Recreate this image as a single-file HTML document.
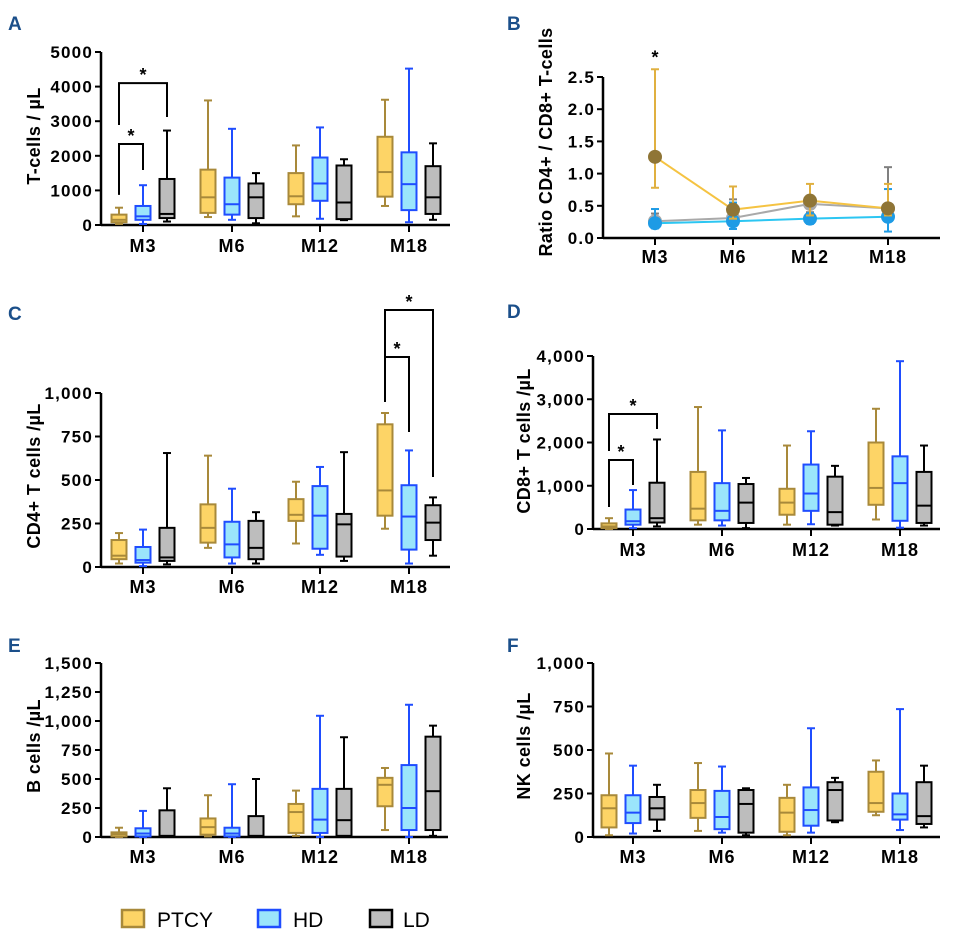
<!DOCTYPE html>
<html><head><meta charset="utf-8">
<style>
html,body{margin:0;padding:0;background:#fff;}
svg{display:block;font-family:"Liberation Sans",Arial,sans-serif;}
</style></head>
<body>
<svg id="fig" width="953" height="942" viewBox="0 0 953 942" xmlns="http://www.w3.org/2000/svg"></svg>
<script>
// ---- data ----
const categories = ["M3","M6","M12","M18"];
const groups = ["PTCY","HD","LD"];
// each entry: [min, q1, median, q3, max]
const tcellsPTCY = [[30,80,150,300,500],[230,350,800,1600,3600],[250,600,830,1500,2300],[550,820,1530,2550,3620]];
const tcellsHD   = [[30,150,250,550,1150],[150,300,600,1370,2780],[180,700,1200,1950,2820],[80,430,1180,2100,4520]];
const tcellsLD   = [[100,200,320,1330,2730],[50,200,800,1200,1500],[140,170,650,1720,1900],[150,320,800,1700,2360]];
const cd4PTCY = [[20,45,65,155,195],[110,140,225,360,640],[135,265,300,390,490],[220,295,440,820,885]];
const cd4HD   = [[5,25,40,115,215],[20,55,130,260,450],[70,105,295,465,575],[20,100,290,470,670]];
const cd4LD   = [[15,35,55,225,655],[20,45,110,265,315],[35,60,245,305,660],[65,155,255,355,400]];
const cd8PTCY = [[0,20,60,130,250],[100,200,470,1320,2820],[100,330,610,930,1930],[220,560,950,2000,2780]];
const cd8HD   = [[20,100,180,450,900],[80,200,420,1060,2280],[110,420,820,1490,2260],[30,190,1060,1680,3880]];
const cd8LD   = [[60,150,250,1070,2070],[20,140,610,1040,1180],[80,100,390,1210,1460],[80,140,540,1320,1930]];
const bPTCY = [[0,5,25,40,80],[5,20,85,160,360],[10,35,215,285,400],[60,265,450,510,595]];
const bHD   = [[0,5,30,75,225],[0,5,30,80,455],[0,35,150,415,1045],[0,60,250,620,1140]];
const bLD   = [[0,5,10,230,420],[0,5,10,180,500],[0,10,145,415,860],[10,60,395,865,960]];
const nkPTCY = [[10,55,165,240,480],[35,110,195,270,425],[10,30,140,225,300],[125,145,195,375,440]];
const nkHD   = [[20,80,140,240,410],[25,45,115,265,405],[25,65,155,285,625],[40,100,130,250,735]];
const nkLD   = [[35,100,165,230,300],[10,25,190,270,280],[85,95,270,315,340],[55,75,120,315,410]];
// ratio panel
const ratioPTCY = [1.26,0.44,0.58,0.46];
const ratioPTCYhi = [2.62,0.80,0.84,0.84];
const ratioPTCYlo = [0.78,0.30,0.35,0.35];
const ratioLD = [0.26,0.31,0.53,0.46];
const ratioLDhi = [0.38,0.60,0.60,1.10];
const ratioLDlo = [0.20,0.20,0.40,0.30];
const ratioHD = [0.23,0.26,0.30,0.33];
const ratioHDhi = [0.45,0.55,0.65,0.76];
const ratioHDlo = [0.15,0.14,0.22,0.10];
// tick labels
const ticksA = [0,1000,2000,3000,4000,5000];
const ticksB = [0,0.5,1.0,1.5,2.0,2.5];
const ticksC = [0,250,500,750,1000];
const ticksD = [0,1000,2000,3000,4000];
const ticksE = [0,250,500,750,1000,1250,1500];
const ticksF = [0,250,500,750,1000];
// significance brackets: [groupFrom, groupTo, category, top, leftEnd, rightEnd]
const sigA = [[0,1,0,2340,870,1590],[0,2,0,4100,2890,3120]];
const sigC = [[0,1,3,1207,948,776],[0,2,3,1477,948,517]];
const sigD = [[0,1,0,1595,509,1017],[0,2,0,2659,1803,2312]];

const NS="http://www.w3.org/2000/svg";
const svg=document.getElementById('fig');
function el(tag,attrs,parent,txt){const e=document.createElementNS(NS,tag);for(const k in attrs)e.setAttribute(k,attrs[k]);if(txt!==undefined)e.textContent=txt;(parent||svg).appendChild(e);return e;}
const COL=[{fill:"#FDD466",stroke:"#A8893A",med:"#A8893A"},{fill:"#9BE5FB",stroke:"#1F4DFF",med:"#1F4DFF"},{fill:"#BDBDBD",stroke:"#000",med:"#000"}];
function fmt(v,comma){if(!comma)return String(v);return v.toLocaleString('en-US');}

function axes(g,p,ticks,labels){
  const y=v=>p.y0-(v-p.vmin)/(p.vmax-p.vmin)*(p.y0-p.y1);
  el('line',{x1:p.ax,y1:p.y1,x2:p.ax,y2:p.y0+1,stroke:'#000','stroke-width':2.5},g);
  el('line',{x1:p.ax,y1:p.y0,x2:p.xEnd,y2:p.y0,stroke:'#000','stroke-width':2.5},g);
  ticks.forEach((t,i)=>{
    const yy=y(t);
    const tk=el('line',{x1:p.ax-6,y1:yy,x2:p.ax,y2:yy,stroke:'#000','stroke-width':2},g);
    
    
    const tl=el('text',{x:p.ax-8,y:yy+6,'text-anchor':'end','font-size':17,'font-weight':'bold','letter-spacing':'1.2'},g,labels[i]);
    
    
  });
  categories.forEach((c,i)=>{
    const cx=p.cx[i];
    el('line',{x1:cx,y1:p.y0,x2:cx,y2:p.y0+7,stroke:'#000','stroke-width':2},g);
    const t=el('text',{x:cx,y:p.xlabY,'text-anchor':'middle','font-size':18,'font-weight':'bold','letter-spacing':'1'},g,c);
    
    
  });
  const at=el('text',{transform:`translate(${p.titleX},${p.titleY}) rotate(-90)`,'text-anchor':'middle','font-size':18,'font-weight':'bold','letter-spacing':'0.4'},g,p.title);
  
  
  const pl=el('text',{x:p.lx,y:p.ly,'font-size':19,'font-weight':'bold',fill:'#1B4F8A'},g,p.letter);
  
  
  return y;
}

function boxPanel(p,series,ticks,labels,sig){
  const g=el('g',{});
  
  
  const y=axes(g,p,ticks,labels);
  const off=[-24,0,24], w=15;
  series.forEach((s,gi)=>{
    s.forEach((d,ci)=>{
      const cx=p.cx[ci]+off[gi], c=COL[gi];
      const bg=el('g',{},g);
      
      
      el('line',{x1:cx,y1:y(d[4]),x2:cx,y2:y(d[0]),stroke:c.stroke,'stroke-width':2},bg);
      el('line',{x1:cx-4,y1:y(d[4]),x2:cx+4,y2:y(d[4]),stroke:c.stroke,'stroke-width':2},bg);
      el('line',{x1:cx-4,y1:y(d[0]),x2:cx+4,y2:y(d[0]),stroke:c.stroke,'stroke-width':2},bg);
      el('rect',{x:cx-w/2,y:y(d[3]),width:w,height:Math.max(1,y(d[1])-y(d[3])),fill:c.fill,stroke:c.stroke,'stroke-width':2},bg);
      el('line',{x1:cx-w/2,y1:y(d[2]),x2:cx+w/2,y2:y(d[2]),stroke:c.med,'stroke-width':2},bg);
    });
  });
  (sig||[]).forEach(s=>{
    const x1=p.cx[s[2]]+off[s[0]], x2=p.cx[s[2]]+off[s[1]];
    const sg=el('g',{},g);
    
    
    el('polyline',{points:`${x1},${y(s[4])} ${x1},${y(s[3])} ${x2},${y(s[3])} ${x2},${y(s[5])}`,fill:'none',stroke:'#000','stroke-width':2},sg);
    el('text',{x:(x1+x2)/2,y:y(s[3])-2,'text-anchor':'middle','font-size':18,'font-weight':'bold'},sg,'*');
  });
}

boxPanel({name:'panel-a-tcells',letter:'A',lx:8,ly:30,ax:101,xEnd:450,y0:225,y1:52,vmin:0,vmax:5000,cx:[143,232,320,409],xlabY:252,title:'T-cells / µL',titleX:40,titleY:136},
 [tcellsPTCY,tcellsHD,tcellsLD],ticksA,ticksA.map(v=>fmt(v,false)),sigA);
boxPanel({name:'panel-c-cd4',letter:'C',lx:8,ly:320,ax:101,xEnd:450,y0:567,y1:393,vmin:0,vmax:1000,cx:[143,232,320,409],xlabY:593,title:'CD4+ T cells /µL',titleX:40,titleY:476},
 [cd4PTCY,cd4HD,cd4LD],ticksC,ticksC.map(v=>fmt(v,true)),sigC);
boxPanel({name:'panel-d-cd8',letter:'D',lx:507,ly:318,ax:593,xEnd:940,y0:529,y1:356,vmin:0,vmax:4000,cx:[633,722,811,900],xlabY:556,title:'CD8+ T cells /µL',titleX:530,titleY:441},
 [cd8PTCY,cd8HD,cd8LD],ticksD,ticksD.map(v=>fmt(v,true)),sigD);
boxPanel({name:'panel-e-bcells',letter:'E',lx:8,ly:652,ax:101,xEnd:448,y0:837,y1:663,vmin:0,vmax:1500,cx:[143,232,320,409],xlabY:863,title:'B cells /µL',titleX:40,titleY:746},
 [bPTCY,bHD,bLD],ticksE,ticksE.map(v=>fmt(v,true)),[]);
boxPanel({name:'panel-f-nkcells',letter:'F',lx:507,ly:652,ax:593,xEnd:940,y0:837,y1:663,vmin:0,vmax:1000,cx:[633,722,811,900],xlabY:863,title:'NK cells /µL',titleX:530,titleY:746},
 [nkPTCY,nkHD,nkLD],ticksF,ticksF.map(v=>fmt(v,true)),[]);

// Panel B
(function(){
  const p={letter:'B',lx:507,ly:30,ax:603,xEnd:940,y0:238,y1:77,vmin:0,vmax:2.5,cx:[655,733,810,888],xlabY:263,title:'Ratio CD4+ / CD8+ T-cells',titleX:552,titleY:142};
  const g=el('g',{});
  
  
  const y=axes(g,p,ticksB,ticksB.map(v=>v.toFixed(1)));
  const ser=[
    {n:'ld',v:ratioLD,hi:ratioLDhi,lo:ratioLDlo,line:'#A9A9A9',err:'#808080',mk:'#A9A9A9'},
    {n:'hd',v:ratioHD,hi:ratioHDhi,lo:ratioHDlo,line:'#2CC6F2',err:'#1E9BE5',mk:'#1E9BE5'},
    {n:'ptcy',v:ratioPTCY,hi:ratioPTCYhi,lo:ratioPTCYlo,line:'#F5C342',err:'#E0B040',mk:'#8F7536'}];
  ser.forEach(s=>{
    const sg=el('g',{},g);
    
    
    s.v.forEach((v,i)=>{
      const cx=p.cx[i];
      el('line',{x1:cx,y1:y(s.hi[i]),x2:cx,y2:y(s.lo[i]),stroke:s.err,'stroke-width':2},sg);
      el('line',{x1:cx-4,y1:y(s.hi[i]),x2:cx+4,y2:y(s.hi[i]),stroke:s.err,'stroke-width':2},sg);
      el('line',{x1:cx-4,y1:y(s.lo[i]),x2:cx+4,y2:y(s.lo[i]),stroke:s.err,'stroke-width':2},sg);
    });
    el('polyline',{points:s.v.map((v,i)=>p.cx[i]+','+y(v)).join(' '),fill:'none',stroke:s.line,'stroke-width':2},sg);
    s.v.forEach((v,i)=>{
      const m=el('circle',{cx:p.cx[i],cy:y(v),r:7,fill:s.mk},sg);
      
      
    });
  });
  const st=el('text',{x:p.cx[0],y:y(ratioPTCYhi[0])-6,'text-anchor':'middle','font-size':18,'font-weight':'bold'},g,'*');
  
  
})();

// Legend
(function(){
  const g=el('g',{});
  
  
  const xs=[[122,157],[258,293],[370,403]];
  groups.forEach((n,i)=>{
    const eg=el('g',{},g);
    
    
    el('rect',{x:xs[i][0],y:910,width:22,height:17,fill:COL[i].fill,stroke:COL[i].stroke,'stroke-width':2.5},eg);
    el('text',{x:xs[i][1],y:927,'font-size':21},eg,n);
  });
})();
</script>
</body></html>
